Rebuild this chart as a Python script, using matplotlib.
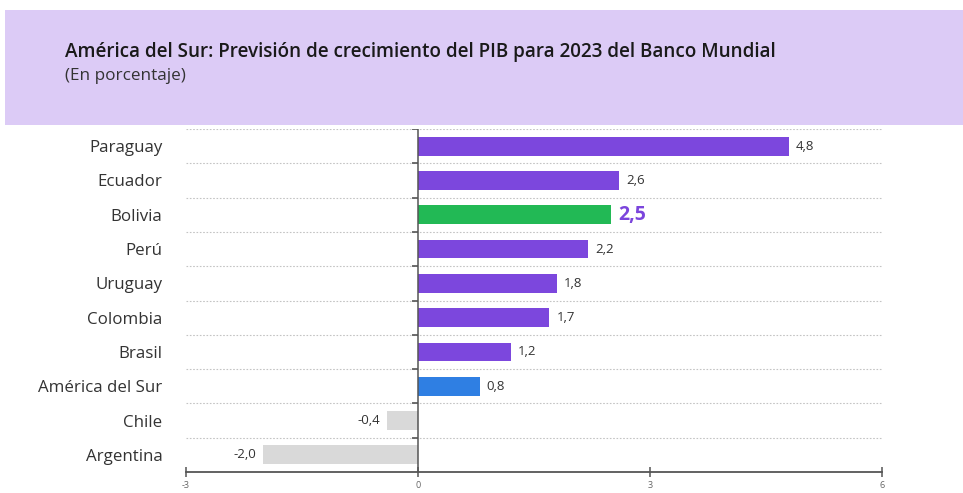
import matplotlib
matplotlib.use("Agg")
import matplotlib.pyplot as plt
from matplotlib.patches import Rectangle

# Data
countries = ["Paraguay", "Ecuador", "Bolivia", "Perú", "Uruguay", "Colombia",
             "Brasil", "América del Sur", "Chile", "Argentina"]
growth = [4.8, 2.6, 2.5, 2.2, 1.8, 1.7, 1.2, 0.8, -0.4, -2.0]
value_labels = ["4,8", "2,6", "2,5", "2,2", "1,8", "1,7", "1,2", "0,8", "-0,4", "-2,0"]
xticks = [-3, 0, 3, 6]

title = "América del Sur: Previsión de crecimiento del PIB para 2023 del Banco Mundial"
subtitle = "(En porcentaje)"

PURPLE = "#7c47dd"
GREEN = "#22b955"
BLUE = "#2f7fe3"
GREY = "#d9d9d9"
HEADER = "#dccbf6"
TEXT = "#333333"

colors = []
for c, v in zip(countries, growth):
    if c == "Bolivia":
        colors.append(GREEN)
    elif c == "América del Sur":
        colors.append(BLUE)
    elif v < 0:
        colors.append(GREY)
    else:
        colors.append(PURPLE)

plt.rcParams["font.family"] = ["Open Sans", "DejaVu Sans"]

W, H = 963, 493
fig = plt.figure(figsize=(W / 100, H / 100), dpi=100)
fig.patch.set_facecolor("white")

# Header band
fig.patches.append(Rectangle((5 / W, 1 - 125 / H), 1 - 5 / W, 115 / H,
                             transform=fig.transFigure, facecolor=HEADER,
                             edgecolor="none", zorder=0))
fig.text(65 / W, 1 - 52 / H, title, fontsize=13.6, fontweight="semibold",
         color="#1a1a1a", va="center", ha="left")
fig.text(65 / W, 1 - 76 / H, subtitle, fontsize=12.3, color=TEXT,
         va="center", ha="left")

left_px, right_px, top_px, bot_px = 186, 882, 129, 472
ax = fig.add_axes([left_px / W, 1 - bot_px / H, (right_px - left_px) / W,
                   (bot_px - top_px) / H])

n = len(countries)
ypos = list(range(n))
ax.barh(ypos, growth, height=0.55, color=colors, zorder=3)

ax.set_xlim(xticks[0], xticks[-1])
ax.set_ylim(n - 0.5, -0.5)

# Dotted separators between categories
for b in [i - 0.5 for i in range(n)]:
    ax.axhline(b, color="#c4c4c4", lw=0.8, ls=(0, (1.5, 1.5)), zorder=1)
    ax.plot([-0.08, 0], [b, b], color="#555555", lw=1.2, zorder=4,
            solid_capstyle="butt")

# Zero line
ax.axvline(0, color="#555555", lw=1.1, zorder=4)

# Value labels
for y, v, lab, c in zip(ypos, growth, value_labels, countries):
    if c == "Bolivia":
        ax.text(v + 0.09, y, lab, va="center", ha="left", fontsize=14,
                fontweight="bold", color="#7b45dc")
    elif v >= 0:
        ax.text(v + 0.09, y, lab, va="center", ha="left", fontsize=9.5,
                color=TEXT)
    else:
        ax.text(v - 0.09, y, lab, va="center", ha="right", fontsize=9.5,
                color=TEXT)

ax.set_yticks(ypos)
ax.set_yticklabels(countries, fontsize=12.2, color=TEXT)
ax.tick_params(axis="y", length=0, pad=17)

ax.set_xticks(xticks)
ax.set_xticklabels([str(t) for t in xticks], fontsize=6.5, color="#666666")
ax.tick_params(axis="x", direction="inout", length=7, width=1.1,
               color="#555555", pad=3)

for s in ["top", "right", "left"]:
    ax.spines[s].set_visible(False)
ax.spines["bottom"].set_color("#555555")
ax.spines["bottom"].set_linewidth(1.3)
ax.set_facecolor("none")

fig.savefig("out.png", dpi=100)
